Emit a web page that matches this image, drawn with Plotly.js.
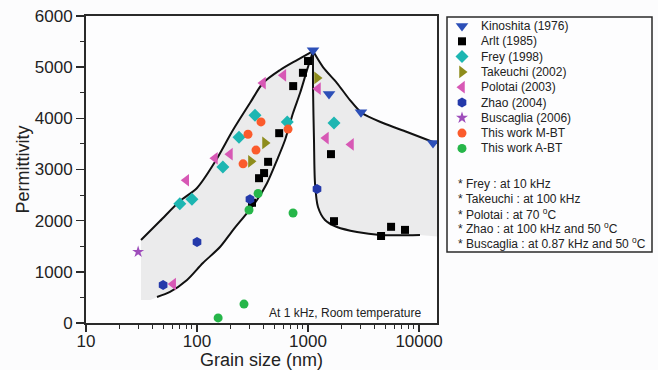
<!DOCTYPE html>
<html>
<head>
<meta charset="utf-8">
<script src="https://cdn.plot.ly/plotly-3.0.1.min.js"></script>
<style>
  html, body { margin: 0; padding: 0; background: #fcfcfd; }
  #chart { width: 658px; height: 370px; }
</style>
</head>
<body>
<div id="chart"></div>
<script>
// Permittivity of BaTiO3 ceramics versus grain size (literature + this work)

const seriesNames = [
  'Kinoshita (1976)', 'Arlt (1985)', 'Frey (1998)', 'Takeuchi (2002)',
  'Polotai (2003)', 'Zhao (2004)', 'Buscaglia (2006)', 'This work M-BT', 'This work A-BT'
];

// grain size (nm) and permittivity for each data set
const kinoshitaX = [1110, 1546, 3000, 13370];
const kinoshitaY = [5330, 4475, 4120, 3520];

const arltX = [1000, 900, 735, 550, 437, 402, 362, 313, 1610, 1715, 4550, 5600, 7480];
const arltY = [5120, 4890, 4630, 3710, 3150, 2930, 2830, 2350, 3300, 1990, 1700, 1880, 1820];

const freyX = [70, 90, 171, 239, 333, 650, 1714];
const freyY = [2330, 2420, 3050, 3630, 4060, 3930, 3910];

const takeuchiX = [410, 306, 1205];
const takeuchiY = [3520, 3160, 4790];

const polotaiX = [61, 80, 145, 198, 393, 600, 1230, 1450, 2440];
const polotaiY = [760, 2790, 3220, 3300, 4690, 4840, 4580, 3615, 3490];

const zhaoX = [49.5, 100, 300, 1205];
const zhaoY = [745, 1585, 2420, 2620];

const buscagliaX = [29.5];
const buscagliaY = [1390];

const mbtX = [377, 288, 340, 260, 661];
const mbtY = [3930, 3690, 3380, 3110, 3790];

const abtX = [355, 294, 733, 265, 155];
const abtY = [2530, 2208, 2150, 370, 100];

// boundary curves of the shaded regions
const upperLeftX = [31.3, 46.4, 70.3, 100, 145, 211, 300, 393, 560, 796, 1110];
const upperLeftY = [1622, 1993, 2384, 2638, 3146, 3771, 4299, 4690, 4944, 5139, 5315];

const lowerLeftX = [43.6, 57.1, 81.3, 113, 161, 211, 282, 347, 428, 526, 621, 733, 848, 980, 1110];
const lowerLeftY = [508, 606, 840, 1172, 1485, 1817, 2149, 2403, 2736, 3185, 3576, 4103, 4494, 4944, 5315];

const upperRightX = [1110, 1365, 1824, 2388, 3062, 4740, 7800, 13370];
const upperRightY = [5315, 5002, 4690, 4357, 4103, 3908, 3732, 3537];

const dropRightX = [1110, 1110, 1132, 1156, 1230, 1422, 1824, 2763, 4450, 10200];
const dropRightY = [5315, 4553, 3576, 2736, 2267, 2013, 1876, 1778, 1720, 1720];

// axis ticks
const xTickVals = [10, 100, 1000, 10000];
const xTickText = ['10', '100', '1000', '10000'];
const yTickVals = [0, 1000, 2000, 3000, 4000, 5000, 6000];
const yTickText = ['0', '1000', '2000', '3000', '4000', '5000', '6000'];

const notes = [
  '* Frey : at 10 kHz',
  '* Takeuchi : at 100 kHz',
  '* Polotai : at 70 <sup>o</sup>C',
  '* Zhao : at 100 kHz and 50 <sup>o</sup>C',
  '* Buscaglia : at 0.87 kHz and 50 <sup>o</sup>C'
];

const seriesX = [kinoshitaX, arltX, freyX, takeuchiX, polotaiX, zhaoX, buscagliaX, mbtX, abtX];
const seriesY = [kinoshitaY, arltY, freyY, takeuchiY, polotaiY, zhaoY, buscagliaY, mbtY, abtY];

const markerStyles = [
  { symbol: 'triangle-down', color: '#2c4fb8', size: 11 },
  { symbol: 'square', color: '#000000', size: 8 },
  { symbol: 'diamond', color: '#1db6b2', size: 10 },
  { symbol: 'triangle-right', color: '#8e8c1c', size: 11 },
  { symbol: 'triangle-left', color: '#d758b5', size: 11 },
  { symbol: 'hexagon', color: '#2439aa', size: 10 },
  { symbol: 'star', color: '#9e4dbb', size: 9 },
  { symbol: 'circle', color: '#fb5b2c', size: 9 },
  { symbol: 'circle', color: '#26b649', size: 9 }
];

const xMax = 14520;
const fillColor = '#ebebec';
const traces = [];

// shaded band on the fine-grain side
traces.push({
  x: upperLeftX.concat(lowerLeftX.slice().reverse(), [38, upperLeftX[0]]),
  y: upperLeftY.concat(lowerLeftY.slice().reverse(), [449, 449]),
  mode: 'lines', fill: 'toself', fillcolor: fillColor,
  line: { width: 0, color: fillColor }, hoverinfo: 'skip'
});
// shaded region on the coarse-grain side
traces.push({
  x: upperRightX.concat([xMax, xMax], dropRightX.slice().reverse()),
  y: upperRightY.concat([upperRightY[upperRightY.length - 1], 1690], dropRightY.slice().reverse()),
  mode: 'lines', fill: 'toself', fillcolor: fillColor,
  line: { width: 0, color: fillColor }, hoverinfo: 'skip'
});

// boundary curves
[[upperLeftX, upperLeftY], [lowerLeftX, lowerLeftY], [upperRightX, upperRightY], [dropRightX, dropRightY]]
  .forEach(([cx, cy]) => {
    traces.push({
      x: cx, y: cy, mode: 'lines',
      line: { color: '#111', width: 2, shape: 'spline', smoothing: 0.8 },
      hoverinfo: 'skip'
    });
  });

// data sets
seriesNames.forEach((name, i) => {
  traces.push({
    x: seriesX[i], y: seriesY[i], name: name, mode: 'markers',
    marker: { symbol: markerStyles[i].symbol, color: markerStyles[i].color, size: markerStyles[i].size, line: { width: 0 } }
  });
});

// legend panel: drawn on its own pixel-scaled axes
const legendTop = 9, legendStep = 15.3, legendMarkX = 15, legendTextX = 32;
const annotations = [];
seriesNames.forEach((name, i) => {
  const ly = legendTop + i * legendStep;
  traces.push({
    x: [legendMarkX], y: [ly], xaxis: 'x2', yaxis: 'y2', mode: 'markers', hoverinfo: 'skip',
    marker: { symbol: markerStyles[i].symbol, color: markerStyles[i].color, size: markerStyles[i].size, line: { width: 0 } }
  });
  annotations.push({
    xref: 'x2', yref: 'y2', x: legendTextX, y: ly, text: name, showarrow: false,
    xanchor: 'left', yanchor: 'middle', font: { size: 12, color: '#222' }
  });
});
notes.forEach((t, i) => {
  annotations.push({
    xref: 'x2', yref: 'y2', x: 9, y: 167 + i * 14.8, text: t, showarrow: false,
    xanchor: 'left', yanchor: 'middle', font: { size: 12, color: '#222' }
  });
});
annotations.push({
  xref: 'x domain', yref: 'y domain', x: 0.96, y: 0.033, text: 'At 1 kHz, Room temperature',
  showarrow: false, xanchor: 'right', yanchor: 'middle', font: { size: 12, color: '#222' }
});

// minor tick positions on the log axis
const xMinor = [];
for (let d = 10; d <= 10000; d *= 10) {
  for (let k = 2; k <= 9; k++) xMinor.push(d * k);
}

const axisColor = '#2a2a2a';
const layout = {
  width: 658, height: 370,
  margin: { l: 86, r: 6, t: 16, b: 47 },
  paper_bgcolor: '#fcfcfd', plot_bgcolor: '#fdfdfe',
  font: { family: 'Liberation Sans, Arial, sans-serif', color: '#222' },
  showlegend: false,
  xaxis: {
    type: 'log', range: [1, Math.log10(xMax)], domain: [0, 351 / 566],
    tickmode: 'array', tickvals: xTickVals, ticktext: xTickText,
    ticks: 'outside', ticklen: 7, tickwidth: 1.5, tickcolor: axisColor,
    ticklabelstandoff: -5,
    showline: true, linewidth: 2, linecolor: axisColor, mirror: true,
    showgrid: false, zeroline: false, tickfont: { size: 17, color: '#222' },
    minor: { tickmode: 'array', tickvals: xMinor, ticks: 'outside', ticklen: 4, tickwidth: 1, tickcolor: axisColor, showgrid: false },
    title: { text: 'Grain size (nm)', font: { size: 18, color: '#222' }, standoff: 9 }
  },
  yaxis: {
    range: [0, 6000],
    tickmode: 'array', tickvals: yTickVals, ticktext: yTickText,
    ticks: 'outside', ticklen: 8, tickwidth: 1.5, tickcolor: axisColor,
    showline: true, linewidth: 2, linecolor: axisColor, mirror: true,
    showgrid: false, zeroline: false, tickfont: { size: 17, color: '#222' },
    minor: { dtick: 500, tick0: 0, ticks: 'outside', ticklen: 4, tickwidth: 1, tickcolor: axisColor, showgrid: false },
    title: { text: 'Permittivity', font: { size: 18, color: '#222' }, standoff: 0 }
  },
  xaxis2: {
    domain: [(447 - 86) / 566, 1], range: [0, 205], anchor: 'y2',
    visible: false, fixedrange: true
  },
  yaxis2: {
    domain: [(323 - 252) / 307, (323 - 17) / 307], range: [235, 0], anchor: 'x2',
    visible: false, fixedrange: true
  },
  shapes: [{
    type: 'rect', xref: 'x2 domain', yref: 'y2 domain', x0: 0, x1: 1, y0: 0, y1: 1,
    line: { color: '#2a2a2a', width: 1.5 }, fillcolor: 'rgba(0,0,0,0)'
  }],
  annotations: annotations
};

Plotly.newPlot('chart', traces, layout, { displayModeBar: false, staticPlot: true });
</script>
</body>
</html>
